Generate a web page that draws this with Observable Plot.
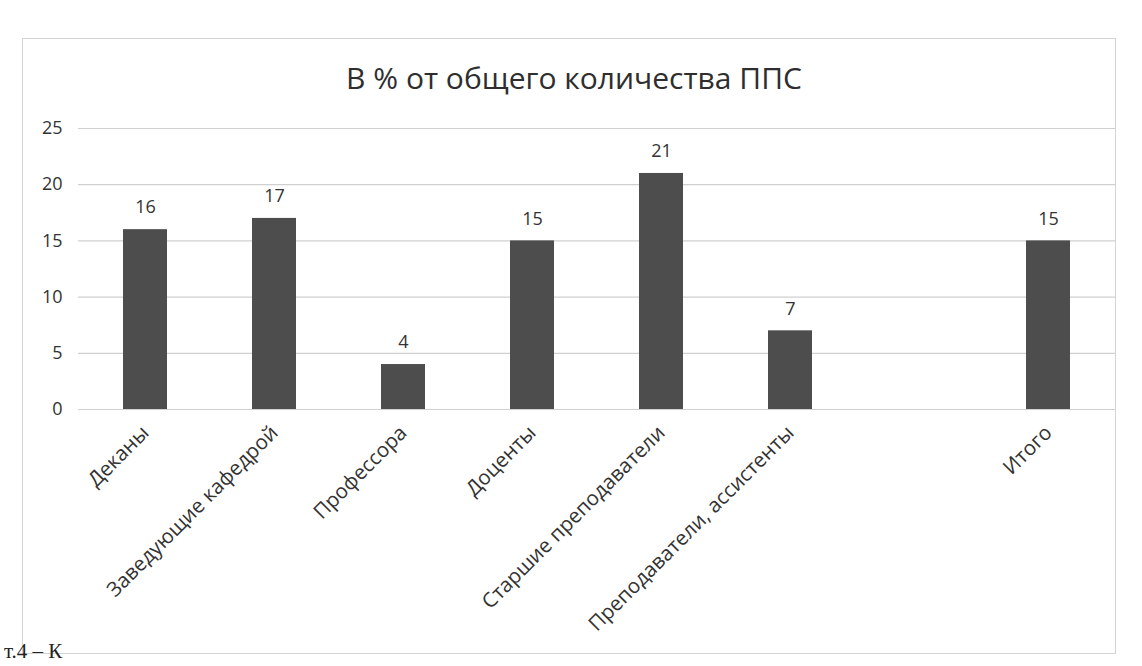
<!DOCTYPE html>
<html>
<head>
<meta charset="utf-8">
<script src="https://cdn.jsdelivr.net/npm/d3@7"></script>
<script src="https://cdn.jsdelivr.net/npm/@observablehq/plot@0.6"></script>
<style>
  html, body { margin: 0; padding: 0; background: #ffffff; }
  #page { position: relative; width: 1142px; height: 666px; overflow: hidden; background: #fff; font-family: "Open Sans", sans-serif; }
  #frame { position: absolute; left: 22px; top: 38px; width: 1094px; height: 616px; border: 1px solid #d4d4d4; box-sizing: border-box; }
  #title { position: absolute; left: 0; width: 1148px; top: 58px; text-align: center; font-size: 30px; font-weight: 500; color: #2e2e2e; line-height: 40px; }
  #chart { position: absolute; left: 0; top: 108px; }
  #caption { position: absolute; left: 4px; top: 639px; font-family: "Liberation Serif", serif; font-size: 21px; color: #222; line-height: 24px; }
</style>
</head>
<body>
<div id="page">
  <div id="frame"></div>
  <div id="title">В % от общего количества ППС</div>
  <div id="chart"></div>
  <div id="caption">т.4 – К</div>
</div>
<script>
const categories = ["Деканы", "Заведующие кафедрой", "Профессора", "Доценты", "Старшие преподаватели", "Преподаватели, ассистенты", "Итого"];
const values = [16, 17, 4, 15, 21, 7, 15];
const blankSlot = " ";
const yTicks = [0, 5, 10, 15, 20, 25];

const slots = [...categories.slice(0, 6), blankSlot, categories[6]];
const data = categories.map((c, i) => ({category: c, value: values[i]}));

const chart = Plot.plot({
  width: 1142,
  height: 540,
  marginTop: 20,
  marginBottom: 239,
  marginLeft: 78,
  marginRight: 27,
  style: {fontFamily: "Open Sans, sans-serif", color: "#333", background: "transparent"},
  x: {domain: slots, paddingInner: 0.66, paddingOuter: 0.33, label: null},
  y: {domain: [0, 25], label: null},
  marks: [
    Plot.ruleY(yTicks, {stroke: "#d0d0d0", strokeWidth: 1.2}),
    Plot.barY(data, {x: "category", y: "value", fill: "#4d4d4d"}),
    Plot.text(data, {x: "category", y: "value", text: d => String(d.value), dy: -22, fontSize: 18, fill: "#333"}),
    Plot.axisY({ticks: yTicks, tickSize: 0, tickPadding: 16, fontSize: 18, fill: "#333"}),
    Plot.axisX({tickSize: 0, tickPadding: 20, tickRotate: -45, fontSize: 20.5, fill: "#333"})
  ]
});
document.getElementById("chart").appendChild(chart);
</script>
</body>
</html>
